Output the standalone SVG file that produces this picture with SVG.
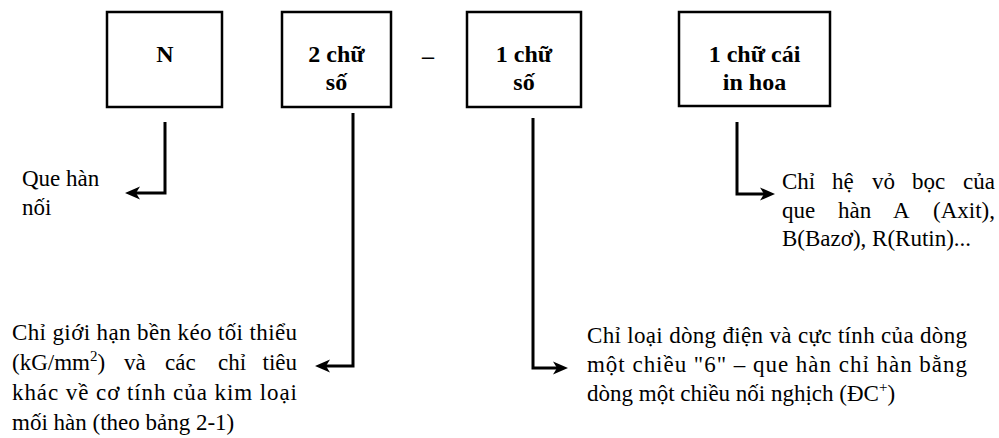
<svg xmlns="http://www.w3.org/2000/svg" width="999" height="438" viewBox="0 0 999 438">
<defs>
<marker id="ah" markerUnits="userSpaceOnUse" markerWidth="18" markerHeight="16" refX="7" refY="7" orient="auto"><path d="M0,0.5 L15,7 L0,13.5 L4,7 Z" fill="#000"/></marker>
</defs>
<style>
.box{fill:#fff;stroke:#000;stroke-width:2.5}
.bt{font-family:"Liberation Serif","Times New Roman",serif;font-weight:bold;font-size:24px;text-anchor:middle;fill:#000}
.t{font-family:"Liberation Serif","Times New Roman",serif;font-size:23px;fill:#000}
.c{fill:none;stroke:#000;stroke-width:3}
</style>
<rect width="999" height="438" fill="#fff"/>
<g id="node-n">
<rect class="box" x="107" y="12" width="115" height="95"/>
<text class="bt" x="165" y="62">N</text>
</g>
<g id="node-2chuso">
<rect class="box" x="282" y="12" width="109" height="95"/>
<text class="bt" x="336.5" y="62">2 chữ</text>
<text class="bt" x="336.5" y="90">số</text>
</g>
<text class="bt" x="428" y="64">–</text>
<g id="node-1chuso">
<rect class="box" x="467" y="12" width="114" height="95"/>
<text class="bt" x="524" y="62">1 chữ</text>
<text class="bt" x="524" y="90">số</text>
</g>
<g id="node-1chucai">
<rect class="box" x="679" y="12" width="151" height="94"/>
<text class="bt" x="754.5" y="62">1 chữ cái</text>
<text class="bt" x="754.5" y="90">in hoa</text>
</g>
<g id="connectors">
<path class="c" d="M165,122 V193 H133" marker-end="url(#ah)"/>
<path class="c" d="M353,113 V366 H323" marker-end="url(#ah)"/>
<path class="c" d="M533,118 V368 H560" marker-end="url(#ah)"/>
<path class="c" d="M737,122 V194 H767" marker-end="url(#ah)"/>
</g>
<g id="label-quehan">
<text class="t" x="22" y="186">Que hàn</text>
<text class="t" x="22" y="215">nối</text>
</g>
<g id="label-hevobog">
<text class="t" y="189"><tspan x="782">Chỉ</tspan><tspan x="832">hệ</tspan><tspan x="872">vỏ</tspan><tspan x="912">bọc</tspan></text>
<text class="t" x="995" y="189" text-anchor="end">của</text>
<text class="t" y="218"><tspan x="782">que</tspan><tspan x="838">hàn</tspan><tspan x="893">A</tspan></text>
<text class="t" x="995" y="218" text-anchor="end">(Axit),</text>
<text class="t" x="782" y="246">B(Bazơ), R(Rutin)...</text>
</g>
<g id="label-gioihan">
<text class="t" x="12" y="340" textLength="285" lengthAdjust="spacing">Chỉ giới hạn bền kéo tối thiểu</text>
<text class="t" y="370"><tspan x="12">(kG/mm</tspan><tspan dy="-9" font-size="15">2</tspan><tspan dy="9">)</tspan></text>
<text class="t" y="370"><tspan x="124">và</tspan><tspan x="165">các</tspan><tspan x="218">chỉ</tspan></text>
<text class="t" x="297" y="370" text-anchor="end">tiêu</text>
<text class="t" x="12" y="400" textLength="285" lengthAdjust="spacing">khác về cơ tính của kim loại</text>
<text class="t" x="12" y="430">mối hàn (theo bảng 2-1)</text>
</g>
<g id="label-dongdien">
<text class="t" x="587" y="343" textLength="380" lengthAdjust="spacing">Chỉ loại dòng điện và cực tính của dòng</text>
<text class="t" x="587" y="372" textLength="380" lengthAdjust="spacing">một chiều "6" – que hàn chỉ hàn bằng</text>
<text class="t" x="587" y="401">dòng một chiều nối nghịch (ĐC<tspan dy="-9" font-size="15">+</tspan><tspan dy="9">)</tspan></text>
</g>
</svg>
